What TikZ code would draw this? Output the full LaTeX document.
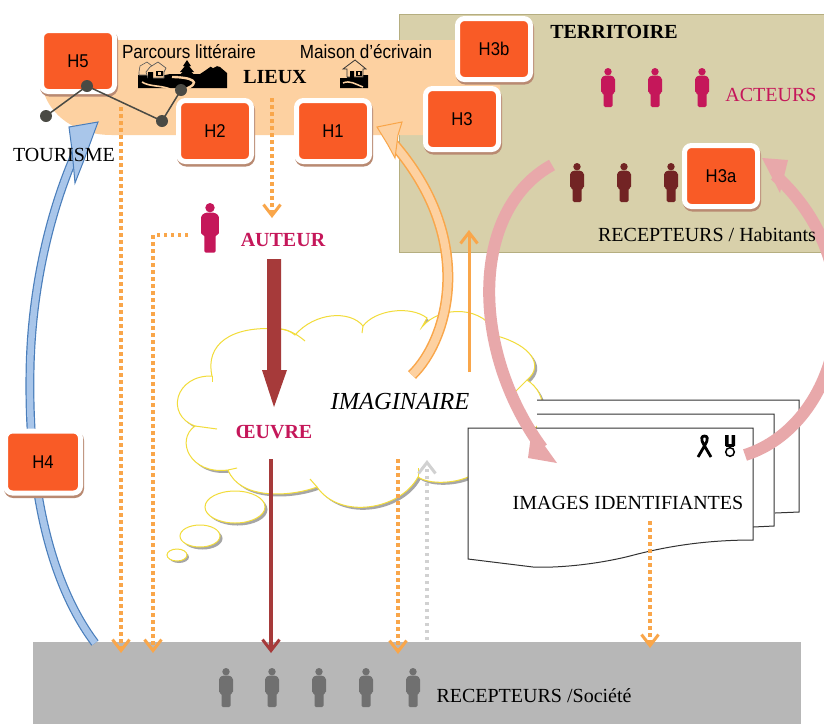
\documentclass[tikz,border=0pt]{standalone}
\usepackage{fontspec}
\setmainfont{Liberation Serif}
\newfontfamily\hfont[FakeStretch=0.9]{Liberation Sans}
\usetikzlibrary{arrows.meta}
\definecolor{terr}{HTML}{D8D0AA}
\definecolor{terrb}{HTML}{B5AE80}
\definecolor{lieu}{HTML}{FDD1A1}
\definecolor{horange}{HTML}{F95B26}
\definecolor{hshadow}{HTML}{B98A72}
\definecolor{dotor}{HTML}{F9A64A}
\definecolor{crim}{HTML}{C5175A}
\definecolor{dkred}{HTML}{722424}
\definecolor{brick}{HTML}{A63A3A}
\definecolor{pinkar}{HTML}{E8A8AA}
\definecolor{bluef}{HTML}{A9C6EA}
\definecolor{blueb}{HTML}{4A7EBB}
\definecolor{grayb}{HTML}{B7B7B7}
\definecolor{grayp}{HTML}{707070}
\definecolor{cloudy}{HTML}{F2DC3A}
\definecolor{dotline}{HTML}{4A4A44}
\tikzset{
  x=1pt,y=-1pt,
  hbox/.style={rectangle,rounded corners=7pt,draw=white,fill=horange,line width=5pt,
    minimum width=73pt,minimum height=61pt,inner sep=0pt,font=\hfont\fontsize{18.5}{20}\selectfont,
    preaction={draw=hshadow,line width=5pt,transform canvas={shift={(1pt,-2.5pt)}}}},
  tx/.style={inner sep=0pt,font=\fontsize{20}{22}\selectfont},
  txb/.style={inner sep=0pt,font=\bfseries\fontsize{20}{22}\selectfont},
  tsans/.style={inner sep=0pt,font=\hfont\fontsize{19}{22}\selectfont},
  dotted line/.style={draw=dotor,line width=3.5pt,dash pattern=on 3.5pt off 3.5pt},
  vhead/.style={-{Straight Barb[length=11pt,width=17pt,line width=3pt,color=#1]}},
  clouded/.style={draw=cloudy,line width=1pt},
  person/.pic={
    \fill (0,3.7) circle (3.7);
    \fill[rounded corners=1.5pt] (-3.5,7.5) -- (3.5,7.5) -- (7,10) -- (7,25) -- (4.5,25) -- (4.5,39) -- (-4.5,39) -- (-4.5,25) -- (-7,25) -- (-7,10) -- cycle;
  }
}
\newcommand{\cloudpath}{(212,376) .. controls (205,345) and (230,325) .. (280,329) .. controls (285,329) and (290,331) .. (295,335)
 .. controls (315,312) and (350,310) .. (363,326) .. controls (375,310) and (410,305) .. (427,318) -- (422,327)
 .. controls (440,305) and (485,305) .. (497,336) .. controls (530,345) and (545,365) .. (527,380)
 .. controls (550,395) and (545,425) .. (530,432) -- (468,477) .. controls (455,483) and (430,485) .. (418,477)
 .. controls (400,510) and (340,520) .. (317,487) .. controls (290,497) and (240,500) .. (228,470)
 .. controls (190,475) and (175,440) .. (195,426) .. controls (165,415) and (175,375) .. (212,376) -- cycle}
\begin{document}
\begin{tikzpicture}
\useasboundingbox (0,0) rectangle (824,724);
\fill[white] (0,0) rectangle (824,724);
% regions
\fill[grayb] (33,642) rectangle (801,724);
\filldraw[fill=terr,draw=terrb,line width=1pt] (399,14) rectangle (830,252);
\fill[lieu] (60,40) -- (460,40) .. controls (485,42) and (500,60) .. (500,85) -- (500,135) -- (112,135) .. controls (75,135) and (50,115) .. (43,90) -- (43,40) -- cycle;

% cloud
\fill[gray!70,shift={(2.5,2.5)}] \cloudpath;
\fill[gray!70] (237.5,509.5) ellipse (30 and 16) (202.5,538.5) ellipse (20 and 11) (179,557) ellipse (10 and 6);
\filldraw[fill=white,clouded] \cloudpath;
\filldraw[fill=white,clouded] (235,507) ellipse (30 and 16) (200,536) ellipse (20 and 11) (177,555) ellipse (10 and 6);
\draw[clouded] (280,329) .. controls (290,330) and (298,335) .. (305,341);
\draw[clouded] (212,376) -- (212,382);
\draw[clouded] (497,336) -- (498,342);
\draw[clouded] (527,380) -- (515,392);
\draw[clouded] (418,477) -- (418,468);
\draw[clouded] (317,487) -- (310,479);
\draw[clouded] (228,470) -- (237,468);
\draw[clouded] (195,426) -- (217,429);
\draw[clouded] (363,326) -- (362,333);

% papers
\fill[white] (537,400) rectangle (799,513);
\draw[black!80,line width=1pt] (537,400) -- (799,400) -- (799,512) -- (775,513);
\fill[white] (537,414) rectangle (774,527);
\draw[black!80,line width=1pt] (537,414) -- (774,414) -- (774,526) -- (753,527);
\filldraw[fill=white,draw=black!80,line width=1pt] (468,428) -- (753,428) -- (753,540) .. controls (700,540) and (660,548) .. (630,556) .. controls (590,566) and (550,568) .. (533,567) -- (468,559) -- cycle;

% ribbon and medal
\draw[black,line width=2.8pt] (698,457) -- (705,445) .. controls (709,438) and (707,436) .. (704.5,436) .. controls (702,436) and (700,438) .. (704,445) -- (711,457);
\fill[black] (725,435) rectangle (728.5,446) (731.5,435) rectangle (735,446);
\fill[black] (726,444) rectangle (734,447);
\draw[black,line width=1.5pt] (730,452) circle (4.3);

% persons
\foreach \x in {608,655,702} \pic[fill=crim,color=crim] at (\x,68) {person};
\foreach \x in {577,624,671} \pic[fill=dkred,color=dkred] at (\x,163) {person};
\foreach \x in {226,272,319,366,413} \pic[fill=grayp,color=grayp] at (\x,668) {person};
\pic[fill=crim,color=crim,scale=1.27] at (210,203) {person};

% icons: literary route landscape
\fill[black] (138,88) -- (138,75) -- (165,75) -- (170,74) -- (200,74) -- (206,70) -- (213,65) -- (220,67) -- (227,73) -- (227,88) -- cycle;
\draw[lieu,line width=2.4pt] (183,90) .. controls (205,82) and (190,77) .. (172,77);
\draw[lieu,line width=1.6pt] (142,82) .. controls (150,87) and (160,85) .. (170,89);
\fill[lieu] (210,66) -- (213,63) -- (217,66) -- (213,68) -- cycle;
\fill[black] (187,60) -- (191,66) -- (189,66) -- (194,72) -- (191,72) -- (196,76) -- (178,76) -- (183,72) -- (180,72) -- (185,66) -- (183,66) -- cycle;
\filldraw[fill=lieu,draw=black!65,line width=.6pt] (139,72) -- (140,66) -- (147,62) -- (152,66) -- (152,75) -- (139,75) -- cycle;
\filldraw[fill=lieu,draw=black!65,line width=.7pt] (146,72) -- (150,67) -- (158,62) -- (166,68) -- (164,72) -- (164,78) -- (148,78) -- cycle;
\fill[black] (148,72) rectangle (153,80) (156,71) rectangle (163,76);
\fill[lieu] (158,72) rectangle (161,75);
% icons: writer's house
\fill[black] (340,88) -- (340,78) -- (347,78) -- (347,76) -- (368,75) -- (368,88) -- cycle;
\filldraw[fill=lieu,draw=black!80,line width=.8pt] (343,69) -- (355,60) -- (366,69) -- (363,69) -- (363,77) -- (347,77) -- (347,69) -- cycle;
\fill[black] (350,71) rectangle (354,79) (356,71) rectangle (362,76);
\fill[lieu] (358,72) rectangle (360,75);
\draw[lieu,line width=1.5pt] (343,83) .. controls (350,80) and (355,84) .. (363,87);

% H boxes
\node[hbox] (h5) at (78,61) {H5};
\node[hbox] (h2) at (215,131) {H2};
\node[hbox] (h1) at (333,131) {H1};
\node[hbox] (h3b) at (494,49) {H3b};
\node[hbox] (h3) at (462,119) {H3};

% tourism route
\coordinate (r1) at (46,116);
\coordinate (r2) at (87,86);
\coordinate (r3) at (162,121);
\coordinate (r4) at (181,90);
\draw[dotline,line width=1.5pt] (r1) -- (r2) -- (r3) -- (r4);
\foreach \c in {r1,r2,r3,r4} \fill[dotline] (\c) circle (6);

% blue arrow
\coordinate (b0) at (95,643);
\coordinate (bm) at (30,373);
\coordinate (b1) at (77,150);
\draw[double=bluef,double distance=6.5pt,draw=blueb,line width=1.2pt] (b0) .. controls (55,590) and (28,500) .. (bm) .. controls (31,290) and (50,210) .. (b1);
\filldraw[fill=bluef,draw=blueb,line width=1pt] (98,122) -- (69,127) -- (72,150) -- (75,183) -- (84,160) -- cycle;
\node[hbox,minimum width=75pt,minimum height=62pt] (h4) at (43,462) {H4};

% dotted arrows
\coordinate (d1a) at (121,107); \coordinate (d1b) at (121,653);
\coordinate (d2a) at (188,235); \coordinate (d2c) at (153,235); \coordinate (d2b) at (153,653);
\coordinate (d3a) at (272,98);  \coordinate (d3b) at (272,218);
\coordinate (d4a) at (398,459); \coordinate (d4b) at (398,654);
\coordinate (d5a) at (650,521); \coordinate (d5b) at (650,648);
\coordinate (d6a) at (427,640); \coordinate (d6b) at (427,460);
\draw[dotted line,vhead=dotor] (d1a) -- (d1b);
\draw[dotted line,vhead=dotor] (d2a) -- (d2c) -- (d2b);
\draw[dotted line,vhead=dotor] (d3a) -- (d3b);
\draw[dotted line,vhead=dotor] (d4a) -- (d4b);
\draw[dotted line,vhead=dotor] (d5a) -- (d5b);
\draw[dotted line,draw=black!18,vhead=black!18] (d6a) -- (d6b);

% dark red arrows
\coordinate (o1a) at (274,259); \coordinate (o1b) at (274,407);
\fill[brick] (267,259) -- (281,259) -- (281,370) -- (287,370) -- (274,407) -- (262,370) -- (267,370) -- cycle;
\coordinate (o2a) at (271,459); \coordinate (o2b) at (271,653);
\draw[brick,line width=4pt,-{Straight Barb[length=11pt,width=17pt,line width=3pt]}] (o2a) -- (o2b);

% orange arrows
\coordinate (a0) at (412,375); \coordinate (a1) at (392,142);
\draw[double=lieu,double distance=8pt,draw=dotor,line width=1.5pt] (a0) .. controls (448,340) and (478,240) .. (a1);
\filldraw[fill=lieu,draw=dotor,line width=1pt] (377,127) -- (402,122) -- (398,135) -- (395,158) -- (388,145) -- cycle;
\coordinate (t0) at (469,372); \coordinate (t1) at (469,230);
\draw[dotor,line width=3pt,-{Straight Barb[length=11pt,width=17pt,line width=3pt]}] (t0) -- (t1);

% pink arrows
\coordinate (k0) at (552,165); \coordinate (k1) at (542,448);
\draw[pinkar,line width=12pt] (k0) .. controls (470,210) and (470,350) .. (k1);
\fill[pinkar] (557,463) -- (528,458) -- (532,428) -- cycle;
\node[hbox] (h3a) at (721,176) {H3a};
\coordinate (m0) at (745,455); \coordinate (m1) at (775,175);
\draw[pinkar,line width=12pt] (m0) .. controls (840,425) and (880,270) .. (m1);
\fill[pinkar] (762,158) -- (788,160) -- (780,193) -- cycle;

% labels
\node[tsans] (parc) at (189,52) {Parcours littéraire};
\node[tsans] (mais) at (366,52) {Maison d’écrivain};
\node[txb] (lieux) at (275,77) {LIEUX};
\node[txb] (terrt) at (614,32) {TERRITOIRE};
\node[tx,text=crim] (act) at (771,95) {ACTEURS};
\node[tx] (rech) at (707,235) {RECEPTEURS / Habitants};
\node[txb,text=crim] (aut) at (283,240) {AUTEUR};
\node[txb,text=crim] (oeu) at (274,432) {ŒUVRE};
\node[inner sep=0pt,font=\itshape\fontsize{24.5}{26}\selectfont] (imag) at (400,401) {IMAGINAIRE};
\node[tx] (tour) at (64,155) {TOURISME};
\node[tx] (imgs) at (628,503) {IMAGES IDENTIFIANTES};
\node[tx] (recs) at (534,696) {RECEPTEURS /Société};
\end{tikzpicture}
\end{document}
